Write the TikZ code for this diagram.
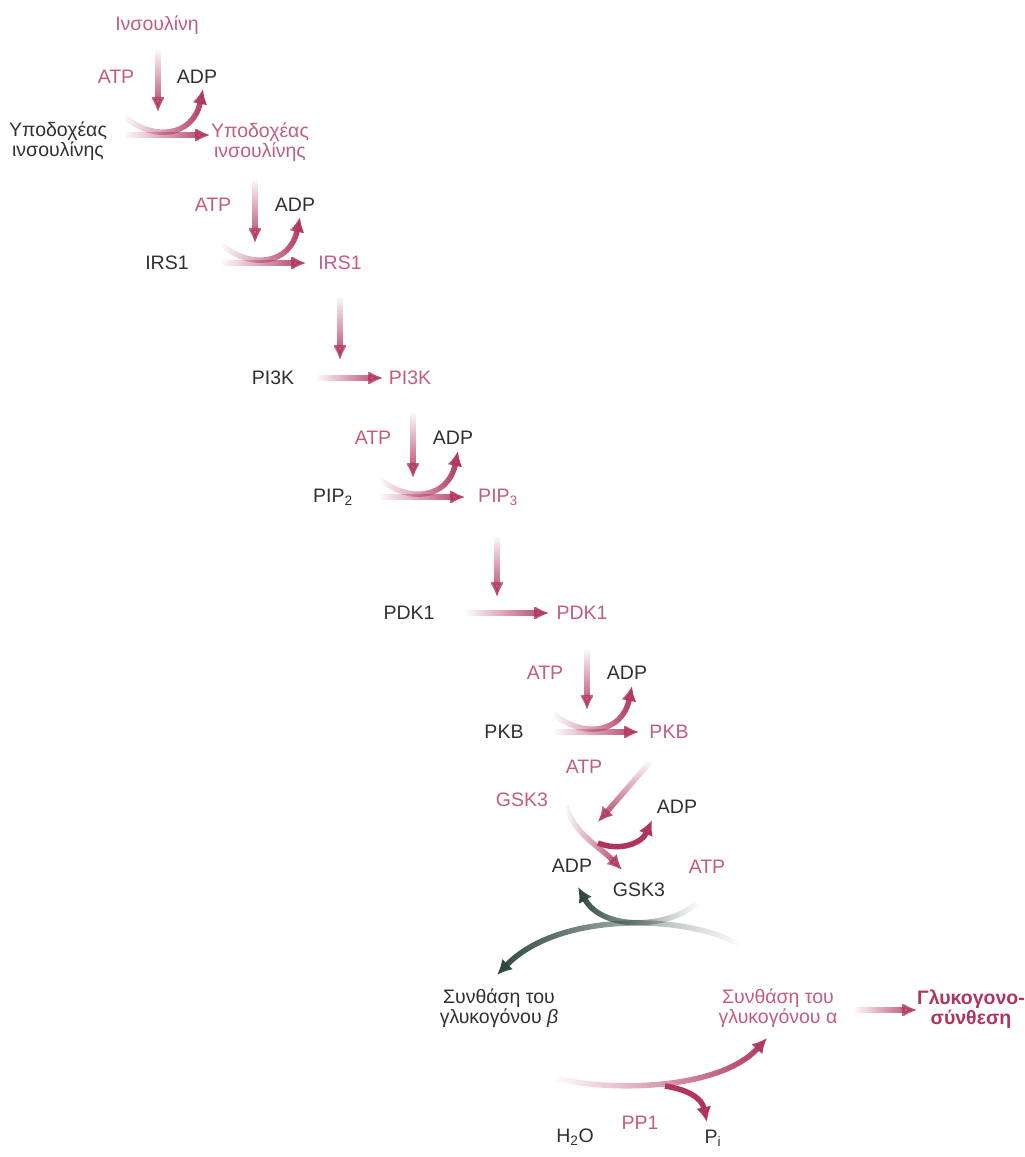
\documentclass[tikz,border=0pt]{standalone}
\usepackage{fontspec}
\setmainfont{Liberation Sans}
\usepackage{tikz}
\usetikzlibrary{arrows.meta,fadings,positioning}
\definecolor{inkpink}{HTML}{B0355E}
\definecolor{txtpink}{HTML}{C45C7E}
\definecolor{txtgray}{HTML}{303030}
\definecolor{inkgreen}{HTML}{2C463E}
\tikzset{
txt/.style  = {text=txtgray, align=center, inner sep=0pt, font=\fontsize{19.5}{19.5}\selectfont},
ptxt/.style = {txt, text=txtpink},
tmp/.style  = {coordinate},
flow/.style = {draw=inkpink, line width=5.5pt},
back/.style = {draw=inkgreen, line width=5.5pt}
}
\begin{document}
\begin{tikzpicture}[x=1pt, y=-1pt, >={Latex[length=15pt,width=15pt]}]
  \useasboundingbox (0,0) rectangle (1025,1157);

  \node [ptxt] (ins)  at (157,25)   {Ινσουλίνη};
  \node [ptxt] (atp1) at (116,77)   {ATP};
  \node [txt]  (adp1) at (197,77)   {ADP};
  \node [txt]  (reca) at (58,141)   {Υποδοχέας\\ινσουλίνης};
  \node [ptxt] (recb) at (260,142)  {Υποδοχέας\\ινσουλίνης};
  \node [ptxt] (atp2) at (213,205)  {ATP};
  \node [txt]  (adp2) at (295,205)  {ADP};
  \node [txt]  (irsa) at (167,263)  {IRS1};
  \node [ptxt] (irsb) at (340,263)  {IRS1};
  \node [txt]  (pika) at (273,378)  {PI3K};
  \node [ptxt] (pikb) at (410,378)  {PI3K};
  \node [ptxt] (atp3) at (373,438)  {ATP};
  \node [txt]  (adp3) at (453,438)  {ADP};
  \node [txt]  (pipa) at (333,497)  {PIP\textsubscript{2}};
  \node [ptxt] (pipb) at (498,497)  {PIP\textsubscript{3}};
  \node [txt]  (pdka) at (409,613)  {PDK1};
  \node [ptxt] (pdkb) at (582,613)  {PDK1};
  \node [ptxt] (atp4) at (545,673)  {ATP};
  \node [txt]  (adp4) at (627,673)  {ADP};
  \node [txt]  (pkba) at (504,732)  {PKB};
  \node [ptxt] (pkbb) at (669,732)  {PKB};
  \node [ptxt] (atp5) at (584,767)  {ATP};
  \node [ptxt] (gska) at (522,800)  {GSK3};
  \node [txt]  (adp5) at (677,807)  {ADP};
  \node [txt]  (adp6) at (572,866)  {ADP};
  \node [txt]  (gskb) at (639,890)  {GSK3};
  \node [ptxt] (atp6) at (707,867)  {ATP};
  \node [txt]  (synb) at (499,1008) {Συνθάση του\\γλυκογόνου \textit{β}};
  \node [ptxt] (syna) at (778,1008) {Συνθάση του\\γλυκογόνου α};
  \node [ptxt, text=inkpink, font=\fontsize{19.5}{19.5}\selectfont\bfseries] (glyk) at (971,1009) {Γλυκογονο-\\σύνθεση};
  \node [ptxt] (pp1)  at (640,1123) {PP1};
  \node [txt]  (h2o)  at (575,1137) {H\textsubscript{2}O};
  \node [txt]  (pi)   at (713,1138) {P\textsubscript{i}};

  \node [tmp] (d1s) at (158,50)  {};
  \node [tmp] (d1e) at (158,112) {};
  \node [tmp] (h1s) at (125,135) {};
  \node [tmp] (h1e) at (210,135) {};
  \node [tmp] (c1)  at (125,117) {};
  \node [tmp] (p1)  at (203,89)  {};
  \node [tmp] (d2s) at (255,180) {};
  \node [tmp] (d2e) at (255,243) {};
  \node [tmp] (h2s) at (222,263) {};
  \node [tmp] (h2e) at (306,263) {};
  \node [tmp] (c2)  at (222,245) {};
  \node [tmp] (p2)  at (300,217) {};
  \node [tmp] (d3s) at (340,297) {};
  \node [tmp] (d3e) at (340,360) {};
  \node [tmp] (h3s) at (317,378) {};
  \node [tmp] (h3e) at (383,378) {};
  \node [tmp] (d4s) at (413,413) {};
  \node [tmp] (d4e) at (413,478) {};
  \node [tmp] (h4s) at (380,497) {};
  \node [tmp] (h4e) at (465,497) {};
  \node [tmp] (c4)  at (380,479) {};
  \node [tmp] (p4)  at (458,451) {};
  \node [tmp] (d5s) at (497,537) {};
  \node [tmp] (d5e) at (497,597) {};
  \node [tmp] (h5s) at (467,613) {};
  \node [tmp] (h5e) at (549,613) {};
  \node [tmp] (d6s) at (587,650) {};
  \node [tmp] (d6e) at (587,710) {};
  \node [tmp] (h6s) at (554,732) {};
  \node [tmp] (h6e) at (639,732) {};
  \node [tmp] (c6)  at (554,714) {};
  \node [tmp] (p6)  at (632,686) {};
  \node [tmp] (g1)  at (650,762) {};
  \node [tmp] (g2)  at (598,822) {};
  \node [tmp] (g3)  at (566,806) {};
  \node [tmp] (g4)  at (622,870) {};
  \node [tmp] (g5)  at (598,843) {};
  \node [tmp] (g6)  at (652,820) {};
  \node [tmp] (k1)  at (740,945) {};
  \node [tmp] (k2)  at (497,975) {};
  \node [tmp] (k3)  at (697,903) {};
  \node [tmp] (k4)  at (578,887) {};
  \node [tmp] (q1)  at (555,1078) {};
  \node [tmp] (q2)  at (767,1038) {};
  \node [tmp] (q3)  at (665,1086) {};
  \node [tmp] (q4)  at (707,1122) {};
  \node [tmp] (r1)  at (855,1010) {};
  \node [tmp] (r2)  at (917,1010) {};

  \draw [flow, ->, path fading=north] (d1s) -- (d1e);
  \draw [flow, ->, path fading=west] (h1s) -- (h1e);
  \draw [flow, ->, path fading=west] (c1) .. controls +(28,24) and +(-10,48) .. (p1);
  \draw [flow, ->, path fading=north] (d2s) -- (d2e);
  \draw [flow, ->, path fading=west] (h2s) -- (h2e);
  \draw [flow, ->, path fading=west] (c2) .. controls +(28,24) and +(-10,48) .. (p2);
  \draw [flow, ->, path fading=north] (d3s) -- (d3e);
  \draw [flow, ->, path fading=west] (h3s) -- (h3e);
  \draw [flow, ->, path fading=north] (d4s) -- (d4e);
  \draw [flow, ->, path fading=west] (h4s) -- (h4e);
  \draw [flow, ->, path fading=west] (c4) .. controls +(28,24) and +(-10,48) .. (p4);
  \draw [flow, ->, path fading=north] (d5s) -- (d5e);
  \draw [flow, ->, path fading=west] (h5s) -- (h5e);
  \draw [flow, ->, path fading=north] (d6s) -- (d6e);
  \draw [flow, ->, path fading=west] (h6s) -- (h6e);
  \draw [flow, ->, path fading=west] (c6) .. controls +(28,24) and +(-10,48) .. (p6);
  \draw [flow, ->, path fading=north] (g1) -- (g2);
  \draw [flow, ->, path fading=west] (g3) .. controls +(9,29) and +(-24,-25) .. (g4);
  \draw [flow, ->] (g5) .. controls +(22,9) and +(-10,23) .. (g6);
  \draw [back, ->, path fading=east] (k1) .. controls +(-50,-30) and +(63,-65) .. (k2);
  \draw [back, ->, path fading=east] (k3) .. controls +(-27,25) and +(25,45) .. (k4);
  \draw [flow, ->, path fading=west] (q1) .. controls +(55,14) and +(-47,52) .. (q2);
  \draw [flow, ->] (q3) .. controls +(25,4) and +(-5,-23) .. (q4);
  \draw [flow, ->, path fading=west] (r1) -- (r2);
\end{tikzpicture}
\end{document}
